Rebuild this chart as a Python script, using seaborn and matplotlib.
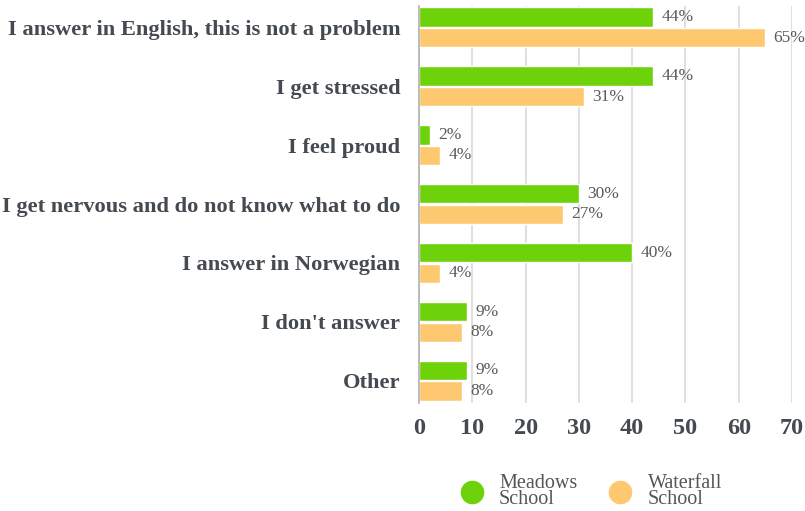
import matplotlib
matplotlib.use("Agg")
import matplotlib.pyplot as plt
from matplotlib.lines import Line2D
import seaborn as sns
import pandas as pd

responses = [
    "I answer in English, this is not a problem",
    "I get stressed",
    "I feel proud",
    "I get nervous and do not know what to do",
    "I answer in Norwegian",
    "I don't answer",
    "Other",
]
meadows = [44, 44, 2, 30, 40, 9, 9]
waterfall = [65, 31, 4, 27, 4, 8, 8]
schools = ["Meadows School", "Waterfall School"]
x_ticks = [0, 10, 20, 30, 40, 50, 60, 70]

colors = {"Meadows School": "#6ed20a", "Waterfall School": "#fdc870"}

df = pd.DataFrame({
    "response": responses * 2,
    "school": [schools[0]] * len(responses) + [schools[1]] * len(responses),
    "percent": meadows + waterfall,
})

sns.set_theme(style="white")
plt.rcParams["font.family"] = ["Liberation Serif", "DejaVu Serif"]

fig = plt.figure(figsize=(8.05, 5.11), dpi=100)
ax = fig.add_axes([0.5205, 0.211, 0.4634, 0.777])

sns.barplot(data=df, y="response", x="percent", hue="school", order=responses,
            hue_order=schools, palette=colors, orient="h", width=0.7, gap=0.06,
            saturation=1, legend=False, ax=ax)

for cont in ax.containers:
    ax.bar_label(cont, labels=[f"{int(round(v))}%" for v in cont.datavalues],
                 padding=6, fontsize=12.5, color="#5a5a5a")

ax.set_xlim(0, 70)
ax.set_ylim(6.38, -0.36)
ax.set_xticks(x_ticks)
ax.set_xticklabels([str(t) for t in x_ticks], fontsize=17.5, fontweight="bold",
                   color="#444a50")
ax.tick_params(axis="y", labelsize=16.2, pad=13.5, length=0)
ax.tick_params(axis="x", pad=11, length=0)
for lbl in ax.get_yticklabels():
    lbl.set_fontweight("bold")
    lbl.set_color("#444a50")
ax.set_xlabel("")
ax.set_ylabel("")
ax.xaxis.grid(True, color="#d9d9d9", linewidth=1.2)
ax.set_axisbelow(True)
for side in ["top", "right", "bottom"]:
    ax.spines[side].set_visible(False)
ax.spines["left"].set_color("#b0b0b0")
ax.spines["left"].set_linewidth(1.2)

handles = [Line2D([], [], marker="o", linestyle="", markersize=16,
                  markerfacecolor=colors[s], markeredgecolor=colors[s]) for s in schools]
leg = fig.legend(handles, ["Meadows\nSchool", "Waterfall\nSchool"], loc="center",
                 bbox_to_anchor=(0.734, 0.038), ncol=2, frameon=False, fontsize=14.5,
                 labelcolor="#555555", handletextpad=0.75, columnspacing=1.55,
                 labelspacing=0.2, handlelength=1.2)
for t in leg.get_texts():
    t.set_linespacing(0.8)

fig.savefig("out.png", dpi=100)
